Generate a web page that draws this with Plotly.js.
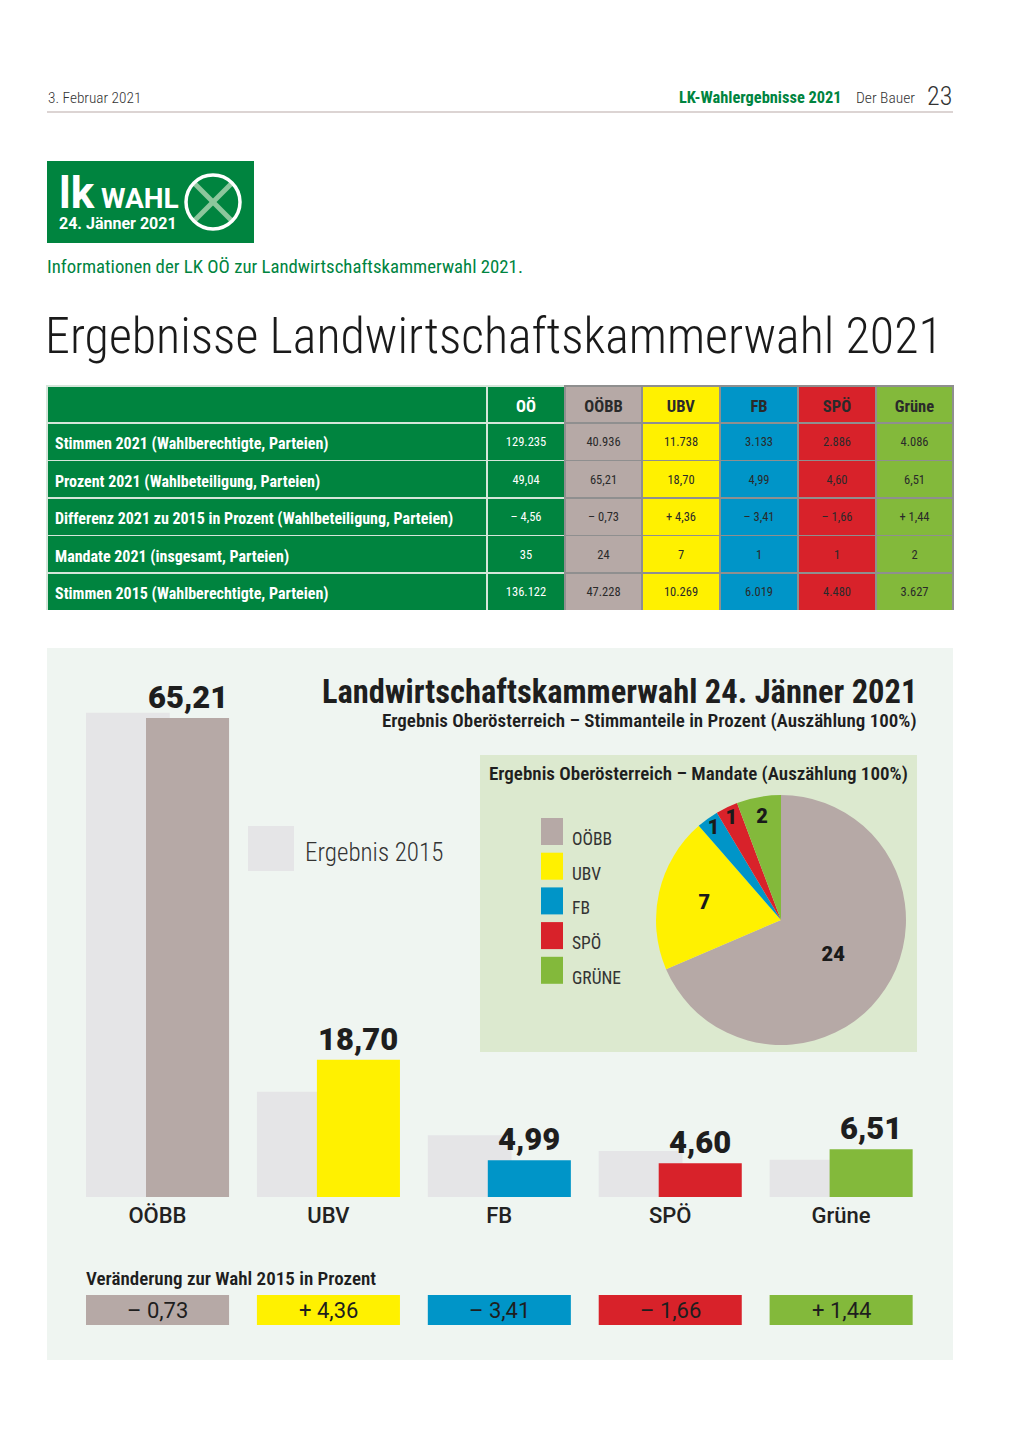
<!DOCTYPE html>
<html><head><meta charset="utf-8">
<script src="https://cdn.plot.ly/plotly-3.0.1.min.js"></script>
<style>html,body{margin:0;padding:0;background:#fff}#chart{width:1020px;height:1442px}</style>
</head><body><div id="chart"></div>
<script>
// ---------- DATA ----------
const tableColumns = ['OÖ', 'OÖBB', 'UBV', 'FB', 'SPÖ', 'Grüne'];
const rowLabels = [
  'Stimmen 2021 (Wahlberechtigte, Parteien)',
  'Prozent 2021 (Wahlbeteiligung, Parteien)',
  'Differenz 2021 zu 2015 in Prozent (Wahlbeteiligung, Parteien)',
  'Mandate 2021 (insgesamt, Parteien)',
  'Stimmen 2015 (Wahlberechtigte, Parteien)'
];
const votes2021 = [129235, 40936, 11738, 3133, 2886, 4086];
const pct2021All = [49.04, 65.21, 18.70, 4.99, 4.60, 6.51];
const diffAll = [-4.56, -0.73, 4.36, -3.41, -1.66, 1.44];
const mandatesAll = [35, 24, 7, 1, 1, 2];
const votes2015 = [136122, 47228, 10269, 6019, 4480, 3627];

const parties = ['OÖBB', 'UBV', 'FB', 'SPÖ', 'Grüne'];
const pct2021 = [65.21, 18.70, 4.99, 4.60, 6.51];
const pct2015 = [65.94, 14.34, 8.40, 6.26, 5.07];
const diff = [-0.73, 4.36, -3.41, -1.66, 1.44];

const pieLabels = ['OÖBB', 'UBV', 'FB', 'SPÖ', 'GRÜNE'];
const mandates = [24, 7, 1, 1, 2];

// ---------- STYLE ----------
const W = 1020, H = 1442;
const X = p => p / W, Y = p => 1 - p / H;
const GREEN = '#00843f';
const partyColors = ['#b6a9a6', '#fff100', '#0095c8', '#d8222a', '#83b93b'];
const C2015 = '#e5e5e7';
const COND = '"Roboto Condensed", "DejaVu Sans Condensed", "Liberation Sans Narrow", Roboto, sans-serif';
const SANS = 'Roboto, "Open Sans", sans-serif';

const fmtInt = v => v.toLocaleString('de-DE');
const fmtPct = v => v.toFixed(2).replace('.', ',');
const fmtDiff = v => (v < 0 ? '– ' : '+ ') + Math.abs(v).toFixed(2).replace('.', ',');

// ---------- TABLE ----------
const numCols = tableColumns.map((c, i) =>
  [fmtInt(votes2021[i]), fmtPct(pct2021All[i]), fmtDiff(diffAll[i]), String(mandatesAll[i]), fmtInt(votes2015[i])]);
const blankCol = rowLabels.map(() => '');
const colFill = [GREEN, GREEN].concat(partyColors);
const txtCol = ['#ffffff', '#ffffff', '#2a2a2a', '#2a2a2a', '#2a2a2a', '#2a2a2a', '#2a2a2a'];
const lineCol = ['#d5e6da', '#d5e6da', '#8f8f8f', '#8f8f8f', '#8f8f8f', '#8f8f8f', '#8f8f8f'];
const colW = [440, 78, 77, 78, 78, 78, 77];
const tableDomain = (shift) => ({x: [X(47), X(953)], y: [Y(610 + shift), Y(386 + shift)]});
const CLEAR = 'rgba(0,0,0,0)';

// background grid of the table (fills + rules)
const tableGrid = {
  type: 'table', domain: tableDomain(0), columnwidth: colW,
  header: {values: [''].concat(tableColumns.map(() => '')), fill: {color: colFill}, line: {color: lineCol, width: 1.5}, height: 37},
  cells: {values: [blankCol].concat(tableColumns.map(() => blankCol)), fill: {color: colFill}, line: {color: lineCol, width: 1.5}, height: 37.5}
};
// header texts + row labels
const tableLabels = {
  type: 'table', domain: tableDomain(3), columnwidth: colW,
  header: {
    values: [''].concat(tableColumns.map(c => '<b>' + c + '</b>')),
    fill: {color: CLEAR}, line: {color: CLEAR, width: 0}, align: 'center', height: 37,
    font: {family: COND, size: 16.5, color: txtCol}
  },
  cells: {
    values: [rowLabels.map(t => '<b>' + t + '</b>')].concat(tableColumns.map(() => blankCol)),
    fill: {color: CLEAR}, line: {color: CLEAR, width: 0}, align: 'left', height: 37.5,
    font: {family: COND, size: 16, color: '#ffffff'}
  }
};
// numbers
const tableNumbers = {
  type: 'table', domain: tableDomain(6), columnwidth: colW,
  header: {values: [''].concat(tableColumns.map(() => '')), fill: {color: CLEAR}, line: {color: CLEAR, width: 0}, height: 37},
  cells: {
    values: [blankCol].concat(numCols),
    fill: {color: CLEAR}, line: {color: CLEAR, width: 0}, align: 'center', height: 37.5,
    font: {family: COND, size: 12.5, color: txtCol}
  }
};

// ---------- BARS ----------
const bar2015 = {
  type: 'bar', name: 'Ergebnis 2015', x: parties, y: pct2015,
  marker: {color: C2015}, width: 0.49, offset: -0.418, hoverinfo: 'skip'
};
const bar2021 = {
  type: 'bar', name: 'Ergebnis 2021', x: parties, y: pct2021,
  marker: {color: partyColors}, width: 0.486, offset: -0.067, hoverinfo: 'skip'
};

// ---------- PIE ----------
const pie = {
  type: 'pie', labels: pieLabels, values: mandates, sort: false, direction: 'clockwise', rotation: 0,
  marker: {colors: partyColors, line: {width: 0}},
  textinfo: 'value', textposition: 'inside', insidetextorientation: 'horizontal',
  textfont: {family: SANS, size: 20, color: '#1a1a1a', weight: 900},
  domain: {x: [X(656), X(906)], y: [Y(1045), Y(795)]}, hoverinfo: 'skip'
};

// ---------- SHAPES / ANNOTATIONS ----------
const shapes = [
  {type: 'line', xref: 'paper', yref: 'paper', x0: X(47), x1: X(953), y0: Y(112), y1: Y(112), line: {color: '#b9a9a7', width: 1}},
  {type: 'rect', xref: 'paper', yref: 'paper', x0: X(47), x1: X(254), y0: Y(243), y1: Y(161), fillcolor: GREEN, line: {width: 0}},
  {type: 'line', xref: 'paper', yref: 'paper', x0: X(195), x1: X(231), y0: Y(184), y1: Y(220), line: {color: '#8cc79c', width: 5}},
  {type: 'line', xref: 'paper', yref: 'paper', x0: X(195), x1: X(231), y0: Y(220), y1: Y(184), line: {color: '#8cc79c', width: 5}},
  {type: 'circle', xref: 'paper', yref: 'paper', x0: X(186), x1: X(240), y0: Y(229), y1: Y(175), line: {color: '#ffffff', width: 3.5}},
  {type: 'rect', layer: 'below', xref: 'paper', yref: 'paper', x0: X(47), x1: X(953), y0: Y(1360), y1: Y(648), fillcolor: '#eff5f1', line: {width: 0}},
  {type: 'rect', layer: 'below', xref: 'paper', yref: 'paper', x0: X(480), x1: X(917), y0: Y(1052), y1: Y(755), fillcolor: '#dce9cf', line: {width: 0}},
  {type: 'rect', xref: 'paper', yref: 'paper', x0: X(248), x1: X(294), y0: Y(871), y1: Y(826), fillcolor: C2015, line: {width: 0}}
];
const annotations = [
  {xref: 'paper', yref: 'paper', x: X(46), y: Y(98), xanchor: 'left', yanchor: 'middle', showarrow: false,
   text: '3. Februar 2021', font: {family: COND, size: 15.3, color: '#333', weight: 300}},
  {xref: 'paper', yref: 'paper', x: X(844), y: Y(98), xanchor: 'right', yanchor: 'middle', showarrow: false,
   text: '<b>LK-Wahlergebnisse 2021</b>', font: {family: COND, size: 16.4, color: GREEN}},
  {xref: 'paper', yref: 'paper', x: X(917), y: Y(98), xanchor: 'right', yanchor: 'middle', showarrow: false,
   text: 'Der Bauer', font: {family: COND, size: 15.5, color: '#333', weight: 300}},
  {xref: 'paper', yref: 'paper', x: X(954), y: Y(96), xanchor: 'right', yanchor: 'middle', showarrow: false,
   text: '23', font: {family: COND, size: 26, color: '#333', weight: 300}},
  {xref: 'paper', yref: 'paper', x: X(57), y: Y(235), xanchor: 'left', yanchor: 'bottom', align: 'left', showarrow: false,
   text: '<b><span style="font-size:44px">lk</span><span style="font-size:28px"> WAHL</span><br>24. Jänner 2021</b>',
   font: {family: SANS, size: 16, color: '#fff'}},
  {xref: 'paper', yref: 'paper', x: X(45), y: Y(267), xanchor: 'left', yanchor: 'middle', showarrow: false,
   text: 'Informationen der LK OÖ zur Landwirtschaftskammerwahl 2021.', font: {family: COND, size: 18.8, color: GREEN}},
  {xref: 'paper', yref: 'paper', x: X(919), y: Y(692), xanchor: 'right', yanchor: 'middle', showarrow: false,
   text: '<b>Landwirtschaftskammerwahl 24. Jänner 2021</b>', font: {family: COND, size: 32.5, color: '#1e1e1e'}},
  {xref: 'paper', yref: 'paper', x: X(919), y: Y(720), xanchor: 'right', yanchor: 'middle', showarrow: false,
   text: 'Ergebnis Oberösterreich – Stimmanteile in Prozent (Auszählung 100%)', font: {family: COND, size: 19, color: '#1e1e1e', weight: 600}},
  {xref: 'paper', yref: 'paper', x: X(487), y: Y(773), xanchor: 'left', yanchor: 'middle', showarrow: false,
   text: 'Ergebnis Oberösterreich – Mandate (Auszählung 100%)', font: {family: COND, size: 19, color: '#1e1e1e', weight: 600}},
  {xref: 'paper', yref: 'paper', x: X(303), y: Y(853), xanchor: 'left', yanchor: 'middle', showarrow: false,
   text: bar2015.name, font: {family: COND, size: 25, color: '#333', weight: 300}},
  {xref: 'paper', yref: 'paper', x: X(84), y: Y(1278), xanchor: 'left', yanchor: 'middle', showarrow: false,
   text: 'Veränderung zur Wahl 2015 in Prozent', font: {family: COND, size: 19, color: '#1e1e1e', weight: 600}}
];
// bar value labels + change boxes
parties.forEach((p, i) => {
  annotations.push({xref: 'x', yref: 'y', x: i + 0.176, y: pct2021[i], xanchor: 'center', yanchor: 'bottom', yshift: 0,
    showarrow: false, text: fmtPct(pct2021[i]), font: {family: SANS, size: 31, color: '#1e1e1e', weight: 900}});
  shapes.push({type: 'rect', xref: 'x', yref: 'paper', x0: i - 0.418, x1: i + 0.419, y0: Y(1325), y1: Y(1295),
    fillcolor: partyColors[i], line: {width: 0}});
  annotations.push({xref: 'x', yref: 'paper', x: i, y: Y(1310), xanchor: 'center', yanchor: 'middle', showarrow: false,
    text: fmtDiff(diff[i]), font: {family: SANS, size: 22, color: '#1e1e1e'}});
});
// pie legend
pieLabels.forEach((l, i) => {
  const top = 818 + i * 34.7;
  shapes.push({type: 'rect', xref: 'paper', yref: 'paper', x0: X(541), x1: X(563), y0: Y(top + 27), y1: Y(top),
    fillcolor: partyColors[i], line: {width: 0}});
  annotations.push({xref: 'paper', yref: 'paper', x: X(570), y: Y(top + 21), xanchor: 'left', yanchor: 'middle', showarrow: false,
    text: l, font: {family: COND, size: 17.5, color: '#333'}});
});

const layout = {
  width: W, height: H, margin: {l: 0, r: 0, t: 0, b: 0},
  paper_bgcolor: '#ffffff', plot_bgcolor: 'rgba(0,0,0,0)',
  showlegend: false, barmode: 'overlay',
  font: {family: SANS, color: '#222'},
  title: {text: 'Ergebnisse Landwirtschaftskammerwahl 2021', x: X(45), xanchor: 'left', xref: 'paper',
    y: Y(335), yref: 'paper', yanchor: 'middle', font: {family: COND, size: 50, color: '#1a1a1a', weight: 300}},
  xaxis: {domain: [X(72), X(926.5)], type: 'category', range: [-0.5, 4.5], showgrid: false, zeroline: false,
    showline: false, ticks: '', ticklabelstandoff: 3, tickfont: {family: SANS, size: 22, color: '#222', weight: 500}, fixedrange: true},
  yaxis: {domain: [Y(1197), Y(650)], range: [0, 74.47], visible: false, showgrid: false, zeroline: false, fixedrange: true},
  uniformtext: {mode: 'show', minsize: 20},
  shapes: shapes, annotations: annotations
};

Plotly.newPlot('chart', [tableGrid, tableLabels, tableNumbers, bar2015, bar2021, pie], layout, {staticPlot: true, displayModeBar: false});
</script></body></html>
